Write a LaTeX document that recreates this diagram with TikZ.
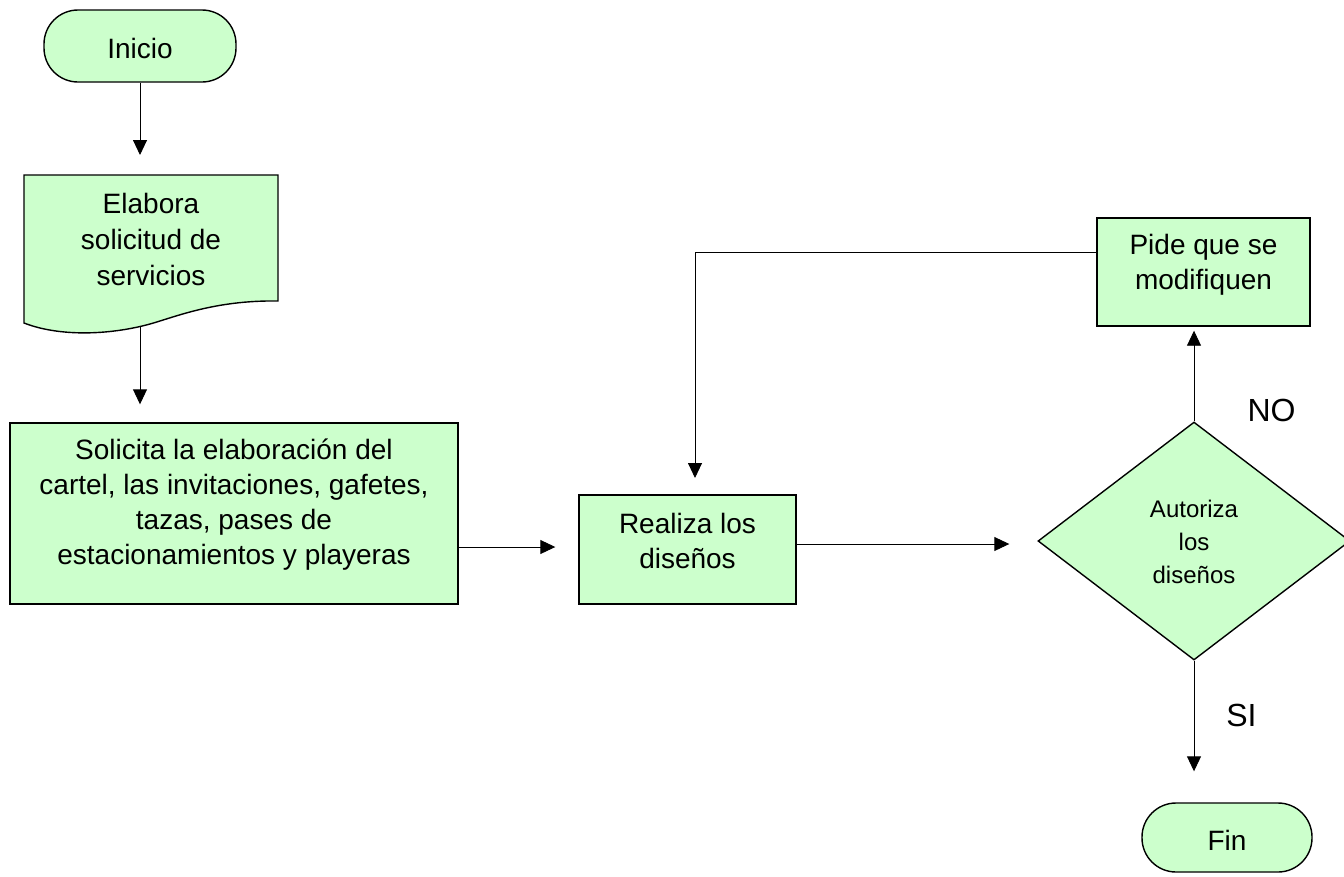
\documentclass[tikz,border=0pt]{standalone}
\usepackage{fontspec}
\setmainfont{Liberation Sans}
\usetikzlibrary{arrows.meta,shapes.geometric}
\definecolor{boxgreen}{RGB}{204,255,204}
\begin{document}
\begin{tikzpicture}[x=1pt,y=-1pt,
  box/.style={draw=black,line width=1.4pt,fill=boxgreen,inner sep=0pt},
  term/.style={box,rounded corners=34pt},
  txt/.style={align=center,inner sep=0pt,font=\fontsize{28}{35}\selectfont},
  decision/.style={box,diamond,aspect=1.311,minimum width=312pt,minimum height=238pt},
  arr/.style={line width=0.9pt,-{Triangle[length=15pt,width=14pt]}},
  lbl/.style={inner sep=0pt,font=\fontsize{32}{36}\selectfont}]
\useasboundingbox (0,0) rectangle (1344,876);

% start terminal
\node[term,minimum width=192pt,minimum height=72pt] (ini) at (140,46) {};
\node[txt] (iniT) at (140,48) {Inicio};

% document shape with wavy bottom edge
\draw[line width=1.4pt,fill=boxgreen]
  (24,175) -- (278,175) -- (278,301)
  .. controls (215,300) and (175,317) .. (150,324)
  .. controls (110,335) and (60,337) .. (24,323) -- cycle;
\node[txt,font=\fontsize{28}{36}\selectfont] (doc) at (151,239)
  {Elabora\\solicitud de\\servicios};
\coordinate (docTop) at (140,175);
\coordinate (docBot) at (140,327);

% process boxes
\node[box,minimum width=448pt,minimum height=181pt] (sol) at (234,513.5) {};
\node[txt] (solT) at (234,505)
  {Solicita la elaboración del\\cartel, las invitaciones, gafetes,\\tazas, pases de\\estacionamientos y playeras};
\node[box,minimum width=217pt,minimum height=109pt] (rea) at (687.5,549.5) {};
\node[txt] (reaT) at (687.5,541) {Realiza los\\diseños};
\node[box,minimum width=213pt,minimum height=108pt] (pide) at (1203.5,272) {};
\node[txt] (pideT) at (1203.5,265) {Pide que se\\modifiquen};

% decision
\node[decision] (dec) at (1194,541) {};
\node[txt,font=\fontsize{24}{33}\selectfont] (decT) at (1194,542) {Autoriza\\los\\diseños};

% end terminal
\node[term,minimum width=170pt,minimum height=69pt] (fin) at (1227,837.5) {};
\node[txt] (finT) at (1227,840) {Fin};

% connectors
\draw[arr,shorten >=20pt] (ini.south) -- (docTop);
\draw[arr,shorten >=18pt] (docBot) -- (docBot |- sol.north);
\draw[arr,shorten >=23pt] (sol.east |- 0,547) -- (rea.west |- 0,547);
\draw[arr,shorten >=28pt] (rea.east |- 0,544) -- (dec.west |- 0,544);
\draw[arr,shorten >=4pt] (dec.north) -- (dec.north |- pide.south);
\coordinate (fbA) at (1097,252);
\coordinate (fbB) at (695,495);
\draw[arr,shorten >=17pt] (pide.west |- fbA) -| (fbB);
\draw[arr,shorten >=31pt] (dec.south) -- (dec.south |- fin.north);

% branch labels
\node[lbl] (no) at (1271.5,410) {NO};
\node[lbl] (si) at (1241.5,715) {SI};
\end{tikzpicture}
\end{document}
